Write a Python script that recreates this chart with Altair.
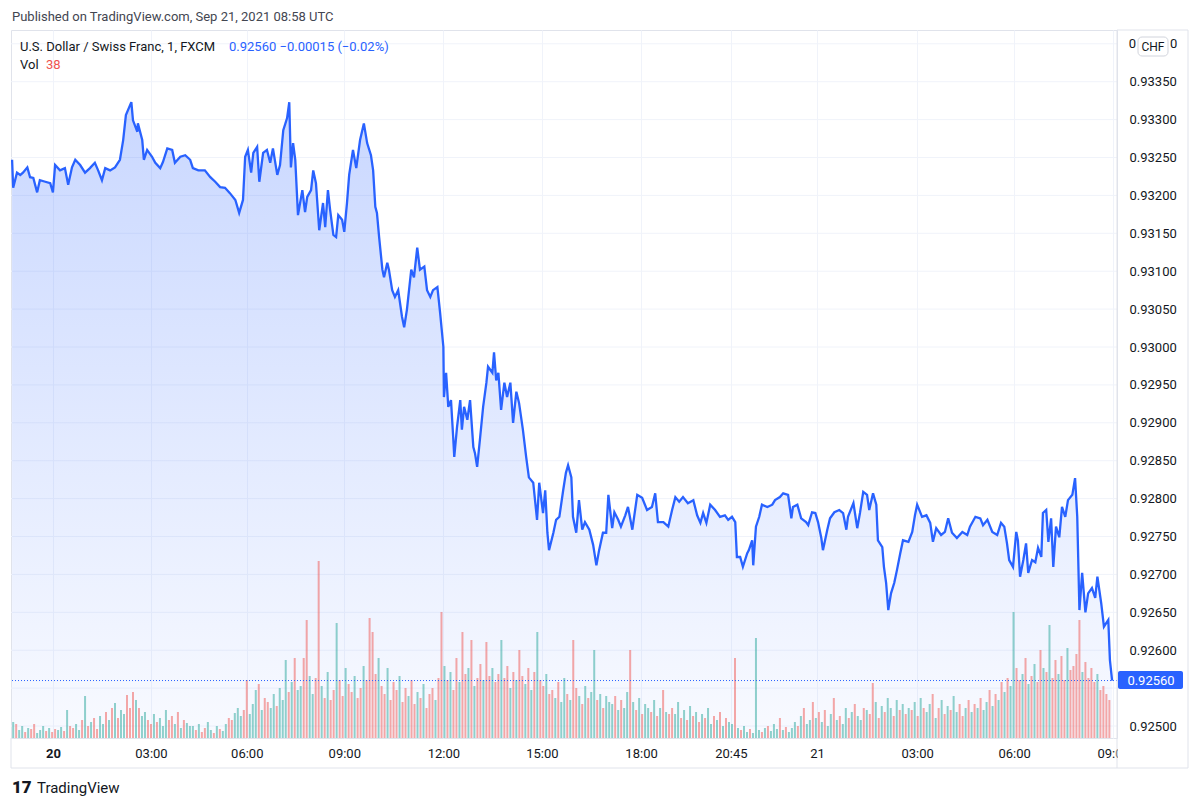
import altair as alt
import pandas as pd

# ---------------- data ----------------
# 1-minute bar index since the chart start, and the close price
bar = [0,2,9,15,20,28,33,39,46,51,61,70,75,79,88,97,103,110,116,125,
       134,143,152,158,165,171,180,189,198,204,209,219,222,230,231,239,242,248,257,263,
       272,277,285,294,299,309,318,327,332,342,354,364,373,382,391,400,410,417,424,428,
       433,439,443,450,454,461,468,474,479,487,492,498,505,509,
       512,516,520,525,533,538,542,549,553,558,564,571,575,580,584,590,595,599,606,610,
       615,619,626,632,639,646,652,659,663,667,670,674,680,683,689,692,698,703,709,716,
       720,725,733,738,744,749,757,762,768,773,781,786,
       792,793,797,801,806,810,812,817,823,826,830,836,841,847,850,854,859,865,871,874,
       882,885,889,893,898,904,909,915,920,926,931,938,944,949,957,964,968,975,979,983,
       986,994,999,1005,1012,1017,1021,
       1027,1030,1036,1041,1047,1052,1060,1067,1073,1078,1085,1091,1095,1102,1106,1113,1118,1126,1131,1139,
       1148,1157,1166,1175,1181,1186,1196,1205,1212,1218,1225,1232,1241,1251,1258,1264,1269,1275,1282,1291,
       1300,1309,1315,1322,1328,1331,1337,1342,1350,1353,1359,1361,1366,1372,1377,1387,1396,1401,1410,1416,
       1425,1431,1434,1442,1449,1458,1462,1469,1475,1480,1486,1489,1497,1502,1510,1519,1526,1532,1535,1545,
       1552,1557,1563,1570,1574,1581,1587,1590,1598,1601,1605,1609,1614,1620,1625,1631,1636,1646,1653,1658,
       1662,1671,1679,1686,1691,1697,1706,1713,1719,1726,1735,1745,1754,1759,1769,1778,1783,1791,1800,1809,
       1816,1822,1827,1831,1838,1844,1847,1851,1857,1862,1866,1873,1879,1884,1890,1893,1899,1903,1908,1912,
       1917,1923,1928,1934,1939,1947,1952,1956,1960,1965,1971,1976,1983,1989,1993,2000,2005,2013,2016,2020]

price = [0.93247,0.93210,0.93230,0.93227,0.93230,0.93237,0.93224,0.93223,0.93204,0.93220,
         0.93218,0.93216,0.93204,0.93240,0.93233,0.93236,0.93214,0.93237,0.93247,0.93240,
         0.93230,0.93236,0.93243,0.93233,0.93220,0.93236,0.93233,0.93237,0.93247,0.93273,
         0.93306,0.93323,0.93299,0.93284,0.93295,0.93273,0.93247,0.93260,0.93251,0.93243,
         0.93236,0.93244,0.93262,0.93260,0.93243,0.93251,0.93253,0.93247,0.93236,0.93233,
         0.93233,0.93224,0.93218,0.93211,0.93210,0.93203,0.93194,0.93177,0.93194,0.93251,
         0.93260,0.93230,0.93256,0.93264,0.93218,0.93256,0.93260,0.93243,0.93262,0.93227,
         0.93240,0.93286,0.93302,0.93323,
         0.93237,0.93269,0.93247,0.93174,0.93207,0.93178,0.93198,0.93207,0.93233,0.93216,
         0.93154,0.93190,0.93158,0.93207,0.93181,0.93148,0.93145,0.93174,0.93168,0.93152,
         0.93190,0.93227,0.93260,0.93236,0.93273,0.93295,0.93269,0.93253,0.93233,0.93185,
         0.93177,0.93145,0.93102,0.93092,0.93111,0.93102,0.93075,0.93066,0.93075,0.93040,
         0.93026,0.93049,0.93102,0.93092,0.93131,0.93102,0.93106,0.93075,0.93066,0.93075,
         0.93079,0.93045,
         0.93000,0.92934,0.92966,0.92921,0.92930,0.92881,0.92855,0.92894,0.92930,0.92891,
         0.92921,0.92904,0.92930,0.92868,0.92860,0.92842,0.92877,0.92921,0.92953,0.92974,
         0.92966,0.92993,0.92956,0.92966,0.92917,0.92953,0.92934,0.92953,0.92900,0.92941,
         0.92926,0.92891,0.92855,0.92828,0.92821,0.92772,0.92821,0.92781,0.92811,0.92755,
         0.92732,0.92755,0.92772,0.92776,0.92811,0.92834,0.92844,
         0.92828,0.92776,0.92755,0.92798,0.92759,0.92769,0.92759,0.92739,0.92712,0.92732,
         0.92755,0.92755,0.92805,0.92761,0.92782,0.92772,0.92763,0.92778,0.92789,0.92759,
         0.92805,0.92801,0.92785,0.92789,0.92807,0.92769,0.92769,0.92763,0.92785,0.92802,
         0.92796,0.92802,0.92794,0.92798,0.92778,0.92768,0.92781,0.92768,0.92792,0.92785,
         0.92776,0.92778,0.92772,0.92776,0.92769,0.92723,0.92723,0.92710,0.92728,0.92732,
         0.92745,0.92712,0.92763,0.92776,0.92792,0.92789,0.92792,0.92798,0.92802,0.92807,
         0.92805,0.92774,0.92789,0.92792,0.92774,0.92769,0.92765,0.92782,0.92781,0.92769,
         0.92748,0.92732,0.92759,0.92774,0.92782,0.92785,0.92781,0.92759,0.92776,0.92794,
         0.92761,0.92781,0.92809,0.92805,0.92785,0.92807,0.92792,0.92745,0.92736,0.92710,
         0.92689,0.92653,0.92675,0.92689,0.92706,0.92728,0.92745,0.92743,0.92756,0.92778,
         0.92792,0.92776,0.92778,0.92768,0.92743,0.92761,0.92752,0.92756,0.92774,0.92755,
         0.92748,0.92756,0.92752,0.92763,0.92776,0.92774,0.92765,0.92772,0.92756,0.92752,
         0.92768,0.92763,0.92741,0.92719,0.92710,0.92756,0.92745,0.92697,0.92719,0.92741,
         0.92702,0.92719,0.92716,0.92735,0.92723,0.92781,0.92785,0.92743,0.92774,0.92710,
         0.92763,0.92749,0.92789,0.92776,0.92798,0.92805,0.92827,0.92776,0.92653,0.92702,
         0.92650,0.92675,0.92682,0.92669,0.92697,0.92662,0.92631,0.92640,0.92587,0.92560]

vol = [16,14,8,12,6,10,9,14,5,8,12,7,10,6,9,8,11,7,28,12,
       10,14,8,18,42,12,16,20,9,22,14,26,18,30,35,20,28,24,43,30,
       46,38,30,22,26,18,14,24,16,20,12,28,18,22,14,26,10,18,15,12,
       12,8,14,6,10,16,8,5,12,9,7,14,20,18,25,30,22,28,58,24,
       34,48,54,28,40,36,30,44,32,50,38,78,46,56,80,48,52,80,118,62,
       44,60,177,52,40,66,38,48,115,58,42,70,54,46,62,40,50,72,58,120,
       106,64,80,52,44,70,38,56,48,62,36,50,42,58,34,46,40,54,30,44,
       50,38,60,126,72,58,66,48,80,56,106,64,70,98,52,60,74,58,96,62,
       70,56,64,98,60,72,50,66,58,88,62,54,70,48,66,106,58,52,64,44,
       48,40,56,36,60,44,38,98,50,42,34,52,40,46,88,38,44,30,42,36,
       34,42,28,38,30,46,88,36,28,40,24,34,30,26,38,22,30,48,26,24,
       30,24,36,20,28,18,32,22,26,16,24,20,30,14,22,18,26,12,20,16,
       14,80,10,8,12,6,9,5,100,8,6,10,12,7,14,9,20,8,11,6,
       10,16,12,22,30,14,18,36,20,26,16,28,12,24,40,18,22,14,30,20,
       26,34,22,18,30,28,24,55,36,20,32,26,40,30,22,38,28,34,24,30,
       28,36,22,40,30,26,34,44,20,30,38,24,32,28,42,26,34,22,30,38,
       26,34,30,40,28,36,48,32,44,38,56,46,60,52,126,70,58,64,80,54,
       62,74,56,88,70,66,113,60,78,64,82,58,90,68,72,84,118,66,76,60,
       70,56,64,48,52,44,38]
vol_dir = ("grggrgrrgggrgrrggrgr" "rggrgrgrrggrgrgrggrr" "rgrggrrgrgggrrgrgrgg"
           "grgrrggrgrggrrgggrrg" "ggrgrrggrgggrgrggrrg" "grrgrgrrgrrgrrgrrgrr"
           "rrgrrgrrrgrrgrrgrgrr" "rgrrgrgrrgrrgrgrrgrr" "grrgrrgrgrrgrgrgrrgr"
           "rgrggrgrrgrgrggrgrgg" "grgrggrgrgrggrgrgrgr" "rggrgrgrgrgrggrgrgrg"
           "grgrggrgggrgrgggrgrg" "ggrgrggrgrgrggrgrggr" "grggrgrrgrgrggrgrgrg"
           "rgrgrggrgrgrgrggrrgr" "grgrggrgrgrgrggrrgrg" "rgrrgrgrrgrrgrrrrgrr"
           "rrgrrrr")
vol_bar = [2 + 5.5 * i for i in range(len(vol))]

tick_bars = [75, 255, 431, 610, 792, 973, 1155, 1320, 1478, 1662, 1840, 2022]
tick_labels = ["20", "03:00", "06:00", "09:00", "12:00", "15:00", "18:00",
               "20:45", "21", "03:00", "06:00", "09:00"]
price_ticks = [0.925, 0.926, 0.9265, 0.927, 0.9275, 0.928, 0.9285, 0.929,
               0.9295, 0.93, 0.9305, 0.931, 0.9315, 0.932, 0.9325, 0.933, 0.9335]
grid_ticks = price_ticks + [0.9255, 0.934]
last_price = 0.92560
y_min, y_max = 0.924842, 0.934182

# ---------------- chart ----------------
W, H = 1106, 708
FONT = "Roboto"
TXT = "#131722"
BORDER = "#e0e3eb"
BLUE = "#2962FF"

df = pd.DataFrame({"bar": bar, "price": price})
n = min(len(vol), len(vol_dir))
vdf = pd.DataFrame({"bar": vol_bar[:n], "vol": vol[:n], "dir": list(vol_dir[:n])})
one = pd.DataFrame({"p": [last_price]})
gdf = pd.DataFrame({"g": grid_ticks})

xscale = alt.Scale(domain=[-2, 2029], nice=False, zero=False, padding=0)
yscale = alt.Scale(domain=[y_min, y_max], nice=False, zero=False, padding=0)
vscale = alt.Scale(domain=[0, 708], nice=False, padding=0)

label_expr = "[{}][indexof([{}], datum.value)]".format(
    ",".join("'%s'" % t for t in tick_labels), ",".join(str(t) for t in tick_bars))

xaxis = alt.Axis(values=tick_bars, labelExpr=label_expr, grid=True, gridColor="#f0f3fa",
                 domain=False, ticks=False, labelPadding=9, labelFontSize=13,
                 labelColor=TXT, labelFont=FONT, labelFlush=False, labelOverlap=False,
                 labelFontWeight={"expr": "datum.value == 75 ? 'bold' : 'normal'"},
                 title=None)
yaxis = alt.Axis(orient="right", values=price_ticks, format=".5f", grid=False,
                 domain=False, ticks=False, labelPadding=12,
                 labelFontSize=13, labelColor=TXT, labelFont=FONT, labelFlush=False,
                 labelOverlap=False, title=None)

X = alt.X("bar:Q", scale=xscale, axis=xaxis)

# horizontal grid lines (incl. the ones whose labels are hidden by the badges)
hgrid = alt.Chart(gdf).mark_rule(color="#f0f3fa", strokeWidth=1).encode(
    y=alt.Y("g:Q", scale=yscale, axis=None))

area = alt.Chart(df).mark_area(
    interpolate="linear",
    color=alt.Gradient(gradient="linear",
                       stops=[alt.GradientStop(color="rgba(41,98,255,0.03)", offset=0),
                              alt.GradientStop(color="rgba(41,98,255,0.25)", offset=1)],
                       x1=1, x2=1, y1=1, y2=0)
).encode(x=X, y=alt.Y("price:Q", scale=yscale, axis=None), y2=alt.datum(y_min))

vbars = alt.Chart(vdf).mark_bar(size=2).encode(
    x=X,
    y=alt.Y("vol:Q", scale=vscale, axis=None),
    color=alt.Color("dir:N", scale=alt.Scale(domain=["g", "r"],
                    range=["rgba(38,166,154,0.5)", "rgba(239,83,80,0.5)"]), legend=None),
)

line = alt.Chart(df).mark_line(color=BLUE, strokeWidth=2.3, interpolate="linear").encode(
    x=X, y=alt.Y("price:Q", scale=yscale, axis=yaxis))

rule = alt.Chart(one).mark_rule(color=BLUE, strokeDash=[1, 2], strokeWidth=1).encode(
    y=alt.Y("p:Q", scale=yscale, axis=None))

badge = alt.Chart(one).mark_rect(color=BLUE, cornerRadius=2).encode(
    x=alt.value(1107), x2=alt.value(1172), y=alt.value(641), y2=alt.value(659))
badge_txt = alt.Chart(one).mark_text(color="white", font=FONT, fontSize=13,
                                     align="center", baseline="middle").encode(
    x=alt.value(1140), y=alt.Y("p:Q", scale=yscale, axis=None),
    text=alt.Text("p:Q", format=".5f"))

cover = alt.Chart(one).mark_rect(color="white").encode(
    x=alt.value(1107), x2=alt.value(1176), y=alt.value(709), y2=alt.value(737))

chf = alt.Chart(one).mark_rect(fill="white", stroke="#d1d4dc", strokeWidth=1,
                               cornerRadius=4).encode(
    x=alt.value(1127), x2=alt.value(1157), y=alt.value(7), y2=alt.value(26))
chf_txt = alt.Chart(one).mark_text(text="CHF", color=TXT, font=FONT, fontSize=12,
                                   align="center", baseline="middle").encode(
    x=alt.value(1142), y=alt.value(16.5))


def frame(x1, x2, y1, y2):
    return alt.Chart(one).mark_rule(color=BORDER, strokeWidth=1).encode(
        x=alt.value(x1), x2=alt.value(x2), y=alt.value(y1), y2=alt.value(y2))


frames = [frame(1106, 1177, 0, 0), frame(1177, 1177, 0, 738), frame(0, 1177, 738, 738),
          frame(0, 0, 708, 738), frame(1106, 1106, 0, 738)]


def label(txt, x, y, color=TXT, size=13, weight="normal", align="left"):
    return alt.Chart(one).mark_text(text=txt, color=color, font=FONT, fontSize=size,
                                    fontWeight=weight, align=align,
                                    baseline="middle").encode(
        x=alt.value(x), y=alt.value(y))


texts = [
    label("Published on TradingView.com, Sep 21, 2021 08:58 UTC", 1, -13, color="#434651"),
    label("U.S. Dollar / Swiss Franc, 1, FXCM", 9, 17),
    label("0.92560  \u22120.00015 (\u22120.02%)", 218, 17, color=BLUE),
    label("Vol", 9, 35),
    label("38", 35, 35, color="#ef5350"),
    label("0", 1125, 14, align="right"),
    label("0", 1159, 14),
    label("17", 1, 758, size=17, weight=900),
    label("TradingView", 26, 758, size=15),
]

chart = alt.layer(hgrid, area, vbars, line, rule, badge, badge_txt, cover, chf, chf_txt,
                  *frames, *texts).resolve_scale(y="independent").properties(
    width=W, height=H,
    autosize=alt.AutoSizeParams(type="none"),
    padding={"left": 3, "top": 22, "right": 75, "bottom": 62},
    background="white",
).configure_view(stroke=BORDER, strokeWidth=1)

chart.save("out.html", embed_options={"renderer": "svg", "actions": False})
